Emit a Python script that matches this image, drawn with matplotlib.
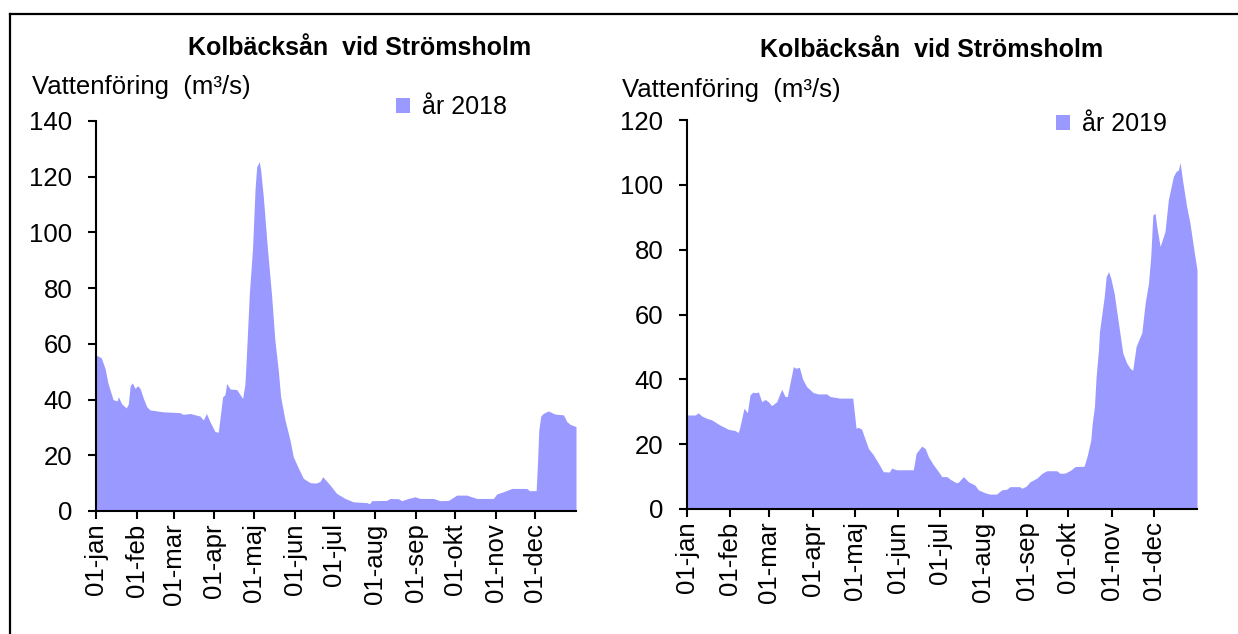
import matplotlib
matplotlib.use("Agg")
import matplotlib.pyplot as plt
from matplotlib.lines import Line2D

plt.rcParams["font.family"] = ["Liberation Sans", "DejaVu Sans"]

# ----------------------------------------------------------
# DATA (day of year, flow in m3/s)
# ----------------------------------------------------------
days_2018 = [0, 4, 7, 9, 11, 13, 16, 17, 19.5, 23, 24.6, 26, 27.6, 29.7, 31.7, 33.5, 36, 38.5,
             41, 51, 64, 66, 71.5, 79, 81.6, 84, 86.7, 90.5, 93, 96.3, 98, 99.4, 102, 107,
             111.5, 113.3, 114.6, 116.6, 119, 121, 122.2, 124.2, 125.2, 127.2, 130.3, 133.6,
             136, 138.6, 140.4, 143.7, 147.5, 150, 154, 157.7, 162.7, 167.3, 170.3, 172.4,
             178, 183, 189.4, 195.7, 206, 208, 209.6, 221, 223.6, 230, 232.5, 237.5, 242.6,
             246.4, 252.7, 256.5, 261.7, 268, 274.3, 281.9, 289.5, 302.2, 304.7, 309.8,
             316.2, 327.6, 329.6, 334.7, 335.7, 336.7, 338.2, 340.3, 344, 349, 355.5, 358,
             360.6, 365]
flow_2018 = [56, 55, 51, 46, 43, 40, 39.5, 41, 38.5, 37, 38.5, 45, 46, 44, 45, 44, 40.5, 37.5,
             36.3, 35.6, 35.3, 34.7, 35, 34.1, 32.7, 35, 32, 28.5, 28.3, 41, 41.7, 45.8, 43.8,
             43.6, 40.4, 45.8, 58, 78, 94, 116, 123.6, 125.4, 122.4, 113, 94.6, 77, 61.4,
             50.6, 41, 32.7, 25.5, 19.5, 15.3, 11.7, 10.2, 10, 10.6, 12.3, 9.3, 6.3, 4.5,
             3.3, 3.0, 2.6, 3.7, 3.8, 4.5, 4.4, 3.7, 4.5, 5.1, 4.5, 4.5, 4.5, 3.7, 3.8,
             5.7, 5.7, 4.5, 4.5, 6.1, 6.9, 8.1, 8.1, 7.3, 7.3, 17, 29, 34.1, 35.1, 35.9,
             34.8, 34.5, 32.1, 31.1, 30.3]

days_2019 = [0, 6, 8, 10.5, 14, 17.7, 23.6, 29.6, 34.4, 36.7, 37.9, 40.8, 43.2, 45.1, 47,
             49.4, 51.1, 53.5, 55.9, 58.2, 60.6, 64.2, 66.6, 67.8, 70.2, 71.8, 73.7, 76.1,
             78, 80.4, 82.8, 85.7, 90.4, 94, 100, 102.4, 109.5, 118.6, 121, 122.6, 125,
             129.8, 133.4, 137, 140.5, 144.8, 146.5, 150, 162, 164, 168, 170.4, 172.8,
             176.4, 180, 182.3, 186, 188.3, 192.6, 194.3, 197.8, 201.4, 206, 208.5, 213.3,
             216.8, 221.6, 225.2, 228.8, 231.2, 238, 239.6, 242.6, 245.5, 250.3, 254,
             257.5, 264.6, 267, 270.6, 274.3, 277.8, 284.2, 286.6, 289, 290, 291.6, 292.8,
             294.5, 295.2, 297, 298.6, 300, 301.7, 303.3, 305.7, 308.8, 311.9, 314.7,
             317.1, 319, 321.4, 325.5, 327.9, 330.3, 331.9, 333.4, 335, 336.2, 338.6,
             342.1, 344.5, 348.1, 350, 351.7, 352.9, 354.8, 357.6, 360, 362.4, 365]
flow_2019 = [29, 29, 29.7, 28.7, 28, 27.5, 25.9, 24.6, 24.2, 23.6, 25.4, 31.1, 29.7, 35.2,
             36, 35.9, 36.1, 33.1, 33.8, 33.1, 31.9, 33.1, 35.7, 36.9, 34.7, 34.7, 38.8,
             43.9, 43.4, 43.7, 40, 37.7, 35.9, 35.5, 35.5, 34.7, 34.2, 34.2, 24.9, 25.2,
             24.6, 18.7, 16.7, 14.1, 11.5, 11.4, 12.6, 12.1, 12.1, 17.2, 19.4, 18.7, 16.1,
             13.6, 11.5, 10, 10, 9.2, 8.1, 8.3, 10, 8.4, 7.4, 5.9, 5.0, 4.6, 4.6, 5.9, 6.1,
             6.9, 6.9, 6.4, 7.0, 8.4, 9.5, 11.0, 11.8, 11.8, 11.0, 11.1, 11.9, 13.1, 13.2,
             16.7, 21.3, 26.4, 31.6, 40.8, 49.1, 54.7, 60.4, 65.5, 71.7, 73.2, 71.2, 66.6,
             57.3, 48.1, 45.0, 43.4, 42.8, 50.1, 54.4, 63.5, 69.7, 77.9, 90.7, 91.2, 87.1,
             81, 85.6, 95.4, 102.6, 104.1, 104.6, 106.9, 101, 93.3, 88.1, 81, 73.8]

month_starts = [0, 31, 59, 90, 120, 151, 181, 212, 243, 273, 304, 334]
month_labels = ["01-jan", "01-feb", "01-mar", "01-apr", "01-maj", "01-jun",
                "01-jul", "01-aug", "01-sep", "01-okt", "01-nov", "01-dec"]

FILL_COLOR = "#9999FF"
W, H = 1238, 634


def fx(px):
    return px / W


def fy(py):
    return 1 - py / H


def draw_panel(fig, rect, days, flow, ymax, label, title_xy, ylab_xy, leg_xy):
    ax = fig.add_axes(rect)
    ax.fill_between(days, flow, 0, color=FILL_COLOR, lw=0, label=label)
    ax.set_xlim(0, 365)
    ax.set_ylim(0, ymax)
    ax.set_yticks(range(0, ymax + 1, 20))
    ax.set_xticks(month_starts)
    ax.set_xticklabels(month_labels, rotation=90, va="top", ha="center")
    for side in ("top", "right"):
        ax.spines[side].set_visible(False)
    for side in ("left", "bottom"):
        ax.spines[side].set_linewidth(1.5)
    ax.tick_params(axis="y", direction="out", length=6, width=1.5, pad=11, labelsize=18.5)
    ax.tick_params(axis="x", direction="out", length=6, width=1.5, pad=3, labelsize=18.5)

    fig.text(fx(title_xy[0]), fy(title_xy[1]), "Kolbäcksån  vid Strömsholm",
             ha="center", va="center", fontsize=18, fontweight="bold")
    fig.text(fx(ylab_xy[0]), fy(ylab_xy[1]), "Vattenföring  (m³/s)",
             ha="left", va="center", fontsize=18.5)
    ax.legend(loc="center left", bbox_to_anchor=(fx(leg_xy[0]), fy(leg_xy[1])),
              bbox_transform=fig.transFigure, frameon=False, fontsize=18,
              handlelength=0.55, handleheight=0.55, handletextpad=0.5,
              borderpad=0, borderaxespad=0)
    return ax


fig = plt.figure(figsize=(W / 100, H / 100), dpi=100)

draw_panel(fig, [fx(96), fy(511), fx(480), (511 - 121) / H],
           days_2018, flow_2018, 140, "år 2018",
           (360, 48), (32, 87), (396, 107))
draw_panel(fig, [fx(687), fy(509), fx(510), (509 - 120) / H],
           days_2019, flow_2019, 120, "år 2019",
           (932, 50), (622, 90), (1056, 124))

# outer frame (only left and top edges are visible in the original)
fig.add_artist(Line2D([fx(10), fx(10)], [fy(14), 0], color="black", lw=1.6))
fig.add_artist(Line2D([fx(10), 1], [fy(14), fy(14)], color="black", lw=1.6))

fig.savefig("out.png", dpi=100)
